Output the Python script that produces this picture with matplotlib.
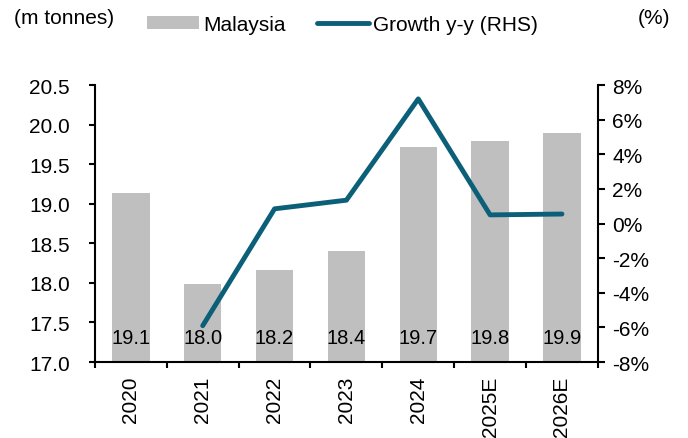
import matplotlib.pyplot as plt
import numpy as np

plt.rcParams['font.family'] = ['Liberation Sans', 'DejaVu Sans']

years = ['2020', '2021', '2022', '2023', '2024', '2025E', '2026E']
output = [19.13, 17.99, 18.16, 18.40, 19.72, 19.79, 19.90]
labels = ['19.1', '18.0', '18.2', '18.4', '19.7', '19.8', '19.9']
growth = [None, -5.9, 0.85, 1.35, 7.2, 0.5, 0.55]

bar_col = '#bfbfbf'
line_col = '#0b5f78'
fs = 15

fig = plt.figure(figsize=(6.88, 4.39), dpi=100)
ax = fig.add_axes([0.138, 0.173, 0.731, 0.631])
x = np.arange(len(years))

ax.bar(x, output, width=0.52, color=bar_col, label='Malaysia', zorder=1)
for xi, t in zip(x, labels):
    ax.text(xi, 17.31, t, ha='center', va='center', fontsize=14.5, zorder=3)

ax.set_ylim(17.0, 20.5)
ax.set_yticks(np.arange(17.0, 20.51, 0.5))
ax.set_yticklabels([f'{v:.1f}' for v in np.arange(17.0, 20.51, 0.5)])
ax.set_xlim(-0.5, len(years) - 0.5)
ax.set_xticks(x)
ax.set_xticklabels(years, rotation=90)
ax.set_xticks(np.arange(-0.5, len(years), 1.0), minor=True)
ax.tick_params(axis='x', which='major', length=0, pad=10, labelsize=fs)
ax.tick_params(axis='x', which='minor', length=4.5, width=1.5, direction='out')
ax.tick_params(axis='y', length=4, width=1.5, direction='out', labelsize=fs, pad=14)
for s in ['top', 'right']:
    ax.spines[s].set_visible(False)
for s in ['left', 'bottom']:
    ax.spines[s].set_linewidth(1.5)

ax2 = ax.twinx()
gx = [xi for xi, g in zip(x, growth) if g is not None]
gy = [g for g in growth if g is not None]
ax2.plot(gx, gy, color=line_col, lw=3.5, solid_capstyle='round', label='Growth y-y (RHS)', zorder=2)
ax2.set_ylim(-8, 8)
ax2.set_yticks(np.arange(-8, 9, 2))
ax2.set_yticklabels([f'{v}%' for v in range(-8, 9, 2)])
ax2.tick_params(axis='y', length=5, width=1.5, direction='out', labelsize=fs, pad=5.5)
for s in ['top', 'left', 'bottom']:
    ax2.spines[s].set_visible(False)
ax2.spines['right'].set_linewidth(1.5)

fig.text(0.02, 1 - 19 / 439, '(m tonnes)', fontsize=fs, va='center')
fig.text(0.974, 1 - 19 / 439, '(%)', fontsize=fs, va='center', ha='right')

h1, l1 = ax.get_legend_handles_labels()
h2, l2 = ax2.get_legend_handles_labels()
fig.legend(h1 + h2, l1 + l2, loc='center left', bbox_to_anchor=(147 / 688, 1 - 25.5 / 439), ncol=2,
           frameon=False, fontsize=fs, handlelength=2.5, handletextpad=0.2,
           columnspacing=1.5, handleheight=0.53, borderpad=0, borderaxespad=0)

fig.savefig('out.png', dpi=100)
